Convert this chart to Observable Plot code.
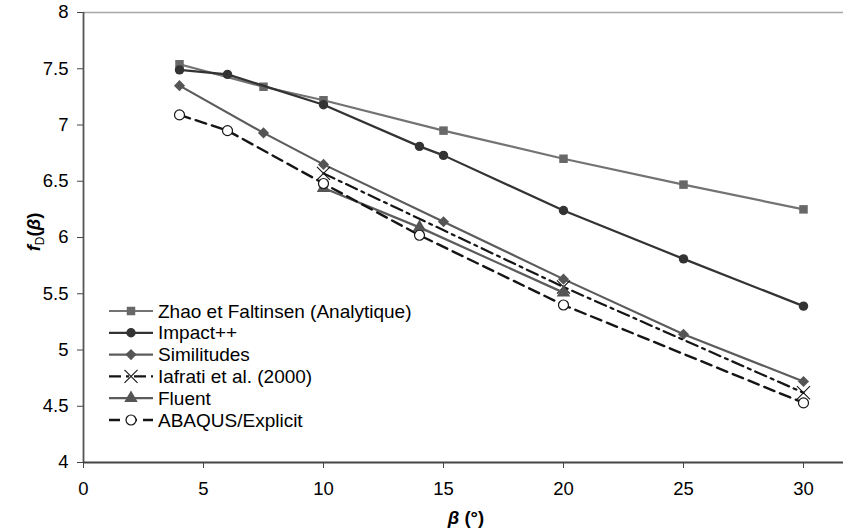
<!DOCTYPE html>
<html>
<head>
<meta charset="utf-8">
<script src="https://cdn.jsdelivr.net/npm/d3@7"></script>
<script src="https://cdn.jsdelivr.net/npm/@observablehq/plot@0.6"></script>
<style>
  html, body { margin: 0; padding: 0; background: #fff; }
  #chart { width: 843px; height: 531px; }
</style>
</head>
<body>
<div id="chart"></div>
<script>
// ---- data ----
const betaZhao = [4, 7.5, 10, 15, 20, 25, 30];
const fdZhao = [7.54, 7.34, 7.22, 6.95, 6.70, 6.47, 6.25];

const betaImpact = [4, 6, 10, 14, 15, 20, 25, 30];
const fdImpact = [7.49, 7.45, 7.18, 6.81, 6.73, 6.24, 5.81, 5.39];

const betaSimil = [4, 7.5, 10, 15, 20, 25, 30];
const fdSimil = [7.35, 6.93, 6.65, 6.14, 5.63, 5.14, 4.72];

const betaIafrati = [10, 20, 30];
const fdIafrati = [6.57, 5.56, 4.62];

const betaFluent = [10, 14, 20];
const fdFluent = [6.44, 6.09, 5.51];

const betaAbaqus = [4, 6, 10, 14, 20, 30];
const fdAbaqus = [7.09, 6.95, 6.48, 6.02, 5.40, 4.53];

const seriesNames = [
  "Zhao et Faltinsen (Analytique)",
  "Impact++",
  "Similitudes",
  "Iafrati et al. (2000)",
  "Fluent",
  "ABAQUS/Explicit"
];

const xTicks = [0, 5, 10, 15, 20, 25, 30];
const yTicks = [4, 4.5, 5, 5.5, 6, 6.5, 7, 7.5, 8];

// ---- tables ----
const toRows = (xs, ys) => xs.map((b, i) => ({beta: b, fd: ys[i]}));
const zhao = toRows(betaZhao, fdZhao);
const impact = toRows(betaImpact, fdImpact);
const simil = toRows(betaSimil, fdSimil);
const iafrati = toRows(betaIafrati, fdIafrati);
const fluent = toRows(betaFluent, fdFluent);
const abaqus = toRows(betaAbaqus, fdAbaqus);

// ---- styles ----
const styles = [
  {line: "#737373", width: 2.2, dash: null, symbol: "square", r: 4.8, fill: "#686868", stroke: "none"},
  {line: "#333333", width: 2.2, dash: null, symbol: "circle", r: 4.7, fill: "#333333", stroke: "none"},
  {line: "#5c5c5c", width: 2.2, dash: null, symbol: "diamond2", r: 5, fill: "#555555", stroke: "none"},
  {line: "#151515", width: 2.2, dash: "12,5,3,5", symbol: "times", r: 6, fill: "none", stroke: "#151515", sw: 1.1},
  {line: "#5c5c5c", width: 2.2, dash: null, symbol: "triangle", r: 5, fill: "#555555", stroke: "none"},
  {line: "#151515", width: 2.4, dash: "11,6", symbol: "circle", r: 5, fill: "#ffffff", stroke: "#151515", sw: 1.2}
];
const tables = [zhao, impact, simil, iafrati, fluent, abaqus];

const font = "'Liberation Sans', Arial, Helvetica, sans-serif";

const marks = [
  Plot.ruleY([8], {stroke: "#a8a8a8", strokeWidth: 1.5}),
  Plot.axisX(xTicks, {tickSize: 6, tickPadding: 13, label: null, stroke: "#444", fontSize: 18.5}),
  Plot.axisY(yTicks, {tickSize: 6, tickPadding: 9, label: null, stroke: "#444", fontSize: 18.5, tickFormat: d => String(d)}),
  Plot.ruleX([0], {stroke: "#555", strokeWidth: 1.8}),
  Plot.ruleY([4], {stroke: "#444", strokeWidth: 1.8})
];
tables.forEach((t, i) => {
  const s = styles[i];
  marks.push(Plot.line(t, {x: "beta", y: "fd", stroke: s.line, strokeWidth: s.width, strokeDasharray: s.dash || undefined}));
  marks.push(Plot.dot(t, {x: "beta", y: "fd", symbol: s.symbol, r: s.r, fill: s.fill, stroke: s.stroke, strokeWidth: s.sw || 1}));
});

const plot = Plot.plot({
  width: 843,
  height: 531,
  marginLeft: 83,
  marginRight: 0,
  marginTop: 12,
  marginBottom: 69,
  style: {fontFamily: font, fontSize: "18px", color: "#000", background: "#fff", overflow: "visible"},
  x: {domain: [0, 31.667]},
  y: {domain: [4, 8]},
  marks
});

document.getElementById("chart").appendChild(plot);

// ---- axis titles & legend (pixel layout) ----
const svg = d3.select(plot);

const yl = svg.append("text")
  .attr("transform", "translate(40,232) rotate(-90)")
  .attr("text-anchor", "middle")
  .attr("font-family", font)
  .attr("font-size", 18.5)
  .attr("font-weight", "bold")
  .attr("fill", "#000");
yl.append("tspan").attr("font-style", "italic").text("f");
yl.append("tspan").attr("font-size", 12).attr("font-weight", "normal").attr("dy", 4).text("D");
yl.append("tspan").attr("dy", -4).text("(");
yl.append("tspan").attr("font-style", "italic").text("β");
yl.append("tspan").text(")");

const xl = svg.append("text")
  .attr("x", 466).attr("y", 524)
  .attr("text-anchor", "middle")
  .attr("font-family", font)
  .attr("font-size", 18.5)
  .attr("font-weight", "bold")
  .attr("fill", "#000");
xl.append("tspan").attr("font-style", "italic").text("β");
xl.append("tspan").text(" (°)");

const symbolMap = {
  square: d3.symbolSquare, circle: d3.symbolCircle, diamond2: d3.symbolDiamond2,
  times: d3.symbolTimes, triangle: d3.symbolTriangle
};
const legendY0 = 311, legendDy = 21.8;
const lg = svg.append("g").attr("text-anchor", "start");
seriesNames.forEach((name, i) => {
  const s = styles[i];
  const y = legendY0 + i * legendDy;
  lg.append("line")
    .attr("x1", 109).attr("x2", 153).attr("y1", y).attr("y2", y)
    .attr("stroke", s.line).attr("stroke-width", s.width)
    .attr("stroke-dasharray", s.dash);
  lg.append("path")
    .attr("transform", `translate(131,${y})`)
    .attr("d", d3.symbol(symbolMap[s.symbol], s.r * s.r * Math.PI)())
    .attr("fill", s.fill).attr("stroke", s.stroke).attr("stroke-width", s.sw || 1);
  lg.append("text")
    .attr("x", 158).attr("y", y + 6.5)
    .attr("text-anchor", "start")
    .attr("font-family", font).attr("font-size", 19)
    .attr("fill", "#000")
    .text(name);
});
</script>
</body>
</html>
